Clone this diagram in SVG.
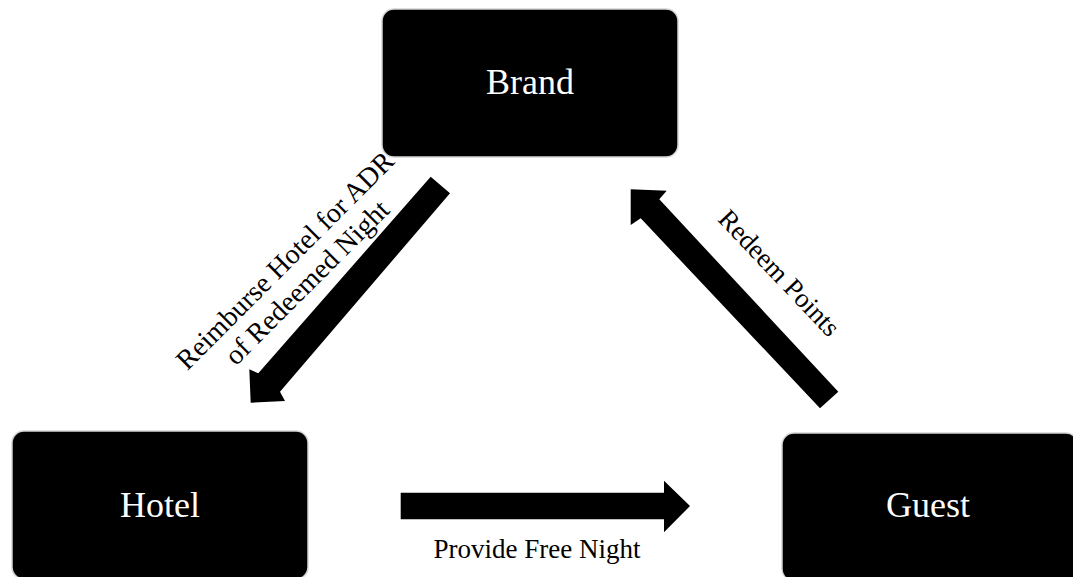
<svg xmlns="http://www.w3.org/2000/svg" width="1073" height="577" viewBox="0 0 1073 577">
<style>
.box{fill:#000;stroke:#d4d4d4;stroke-width:1.5}
.nt{font-family:"Liberation Serif","Times New Roman",serif;font-size:36px;fill:#fff;text-anchor:middle}
.lbl{font-family:"Liberation Serif","Times New Roman",serif;font-size:27px;fill:#000;text-anchor:middle}
.arr{fill:#000}
</style>
<rect width="1073" height="577" fill="#fff"/>
<g id="brand">
<rect class="box" x="382" y="9" width="296" height="148" rx="12"/>
<text class="nt" x="530" y="94">Brand</text>
</g>
<g id="hotel">
<rect class="box" x="12" y="431" width="296" height="148" rx="12"/>
<text class="nt" x="160" y="517">Hotel</text>
</g>
<g id="guest">
<rect class="box" x="782" y="433" width="296" height="148" rx="12"/>
<text class="nt" x="928" y="517">Guest</text>
</g>
<g id="connectors">
<polygon class="arr" points="430.7,176.7 450,193.3 280,391.7 285,401 250.7,402.7 249.3,369.3 258.3,373.3"/>
<polygon class="arr" points="630.7,189.3 666.7,190.7 659.3,199.3 838.3,391.7 820,408.3 640.7,218.3 630.7,225"/>
<polygon class="arr" points="400.7,492.7 664,492.7 664,480.7 690,506 664,532.3 664,519.3 400.7,519.3"/>
<text class="lbl" style="font-size:28px" transform="translate(291.5,267) rotate(-45)"><tspan x="0" y="0">Reimburse Hotel for ADR</tspan><tspan x="0" y="31">of Redeemed Night</tspan></text>
<text class="lbl" transform="translate(772.7,279) rotate(46.5)" x="0" y="0">Redeem Points</text>
<text class="lbl" x="537" y="558">Provide Free Night</text>
</g>
</svg>
